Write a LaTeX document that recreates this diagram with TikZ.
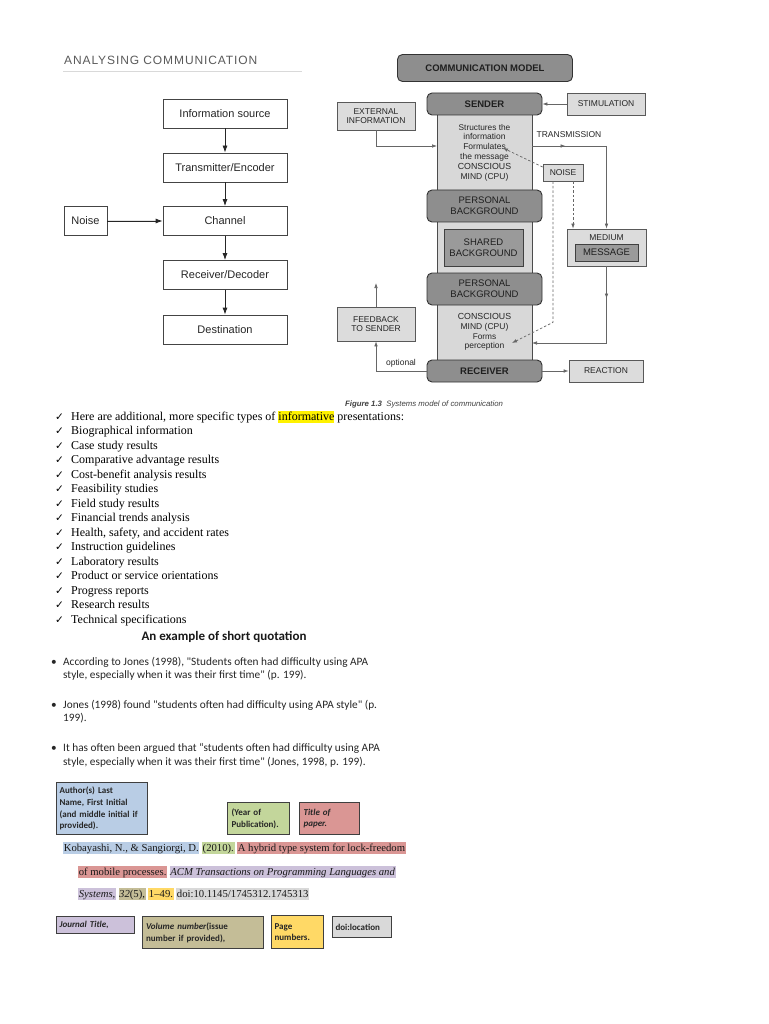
\documentclass[tikz,border=0pt]{standalone}
\usepackage{fontspec}
\setmainfont{Liberation Serif}
\newfontfamily\arialf{Liberation Sans}
\newfontfamily\spacedf[LetterSpace=7.5]{Liberation Sans}
\newfontfamily\calibf{Carlito}
\newfontfamily\dejavuf{DejaVu Sans}
\usetikzlibrary{arrows.meta,decorations.markings}
\definecolor{lcol}{HTML}{444444}
\definecolor{darkgrayA}{HTML}{8E8E8E}
\definecolor{colgray}{HTML}{D8D8D8}
\definecolor{boxgray}{HTML}{DCDCDC}
\definecolor{midgray}{HTML}{9A9A9A}
\definecolor{titlegray}{HTML}{5A5A5A}
\definecolor{hlyellow}{HTML}{FFF200}
\definecolor{cblue}{HTML}{B9CDE5}
\definecolor{cgreen}{HTML}{C3D69B}
\definecolor{cpink}{HTML}{DA9694}
\definecolor{cpurple}{HTML}{CCC1DA}
\definecolor{ctan}{HTML}{C4BD97}
\definecolor{cyellow}{HTML}{FFD966}
\definecolor{cgray}{HTML}{D9D9D9}
\definecolor{cborder}{HTML}{3F3F3F}
\newcommand{\hlc}[2]{{\setlength{\fboxsep}{0.6pt}\colorbox{#1}{\rule[-2.8pt]{0pt}{11.2pt}#2}}}
\begin{document}
\begin{tikzpicture}[x=1pt,y=-1pt,
 lbox/.style={draw=lcol, line width=0.8pt, minimum width=124pt, minimum height=29pt, font=\arialf\fontsize{11}{13}\selectfont, inner sep=1pt, text=black!85},
 larr/.style={-{Latex[length=7pt,width=5pt]}, line width=0.8pt, draw=black!85, fill=black!85},
 rbox/.style={draw=black!65, line width=0.7pt, fill=boxgray, font=\arialf\fontsize{8.5}{9.6}\selectfont, align=center, inner sep=1pt, text=black!85},
 dbox/.style={draw=black!80, line width=0.9pt, fill=darkgrayA, rounded corners=5pt, font=\arialf\fontsize{9.5}{10.6}\selectfont, align=center, inner sep=1pt, minimum width=115pt, text=black!88},
 rline/.style={draw=black!60, line width=0.7pt},
 rarr/.style={rline, -{Latex[length=5pt,width=3.6pt]}},
 midarr/.style={postaction={decorate}, decoration={markings, mark=at position #1 with {\arrow{Latex[length=5pt,width=3.6pt]}}}},
 midarr/.default=0.5,
 rtext/.style={font=\arialf\fontsize{8.5}{9.8}\selectfont, align=center, text=black!85, inner sep=0pt},
 chk/.style={anchor=base west, font=\dejavuf\fontsize{10.5}{12}\selectfont, inner sep=0pt},
 item/.style={anchor=base west, font=\fontsize{12}{14}\selectfont, inner sep=0pt},
 qtext/.style={anchor=base west, font=\calibf\fontsize{11.3}{13}\selectfont, inner sep=0pt, text=black!85},
 cbox/.style={draw=cborder, line width=1.1pt, anchor=north west, align=left, inner sep=0pt, font=\calibf\bfseries\fontsize{9}{11.8}\selectfont, text=black!85},
 refline/.style={anchor=base west, inner sep=0pt, font=\fontsize{10.7}{13}\selectfont, text=black!90}
]
\useasboundingbox (0,0) rectangle (768,1024);
\fill[white] (0,0) rectangle (768,1024);

% ---------- left diagram ----------
\node[anchor=base west, inner sep=0pt, font=\spacedf\fontsize{12}{14}\selectfont, text=titlegray] (title) at (64,65) {ANALYSING COMMUNICATION};
\draw[black!15, line width=0.8pt] (63,71) -- (302,71);
\node[lbox] (src) at (225,113.5) {Information source};
\node[lbox] (enc) at (225,167.5) {Transmitter/Encoder};
\node[lbox] (chan) at (225,221) {Channel};
\node[lbox] (dec) at (225,275) {Receiver/Decoder};
\node[lbox] (dst) at (225,329.5) {Destination};
\node[lbox, minimum width=43pt] (noiseL) at (85.5,221) {Noise};
\draw[larr] (src) -- (enc);
\draw[larr] (enc) -- (chan);
\draw[larr] (chan) -- (dec);
\draw[larr] (dec) -- (dst);
\draw[larr] (noiseL) -- (chan);

% ---------- right diagram ----------
\node[dbox, minimum width=175pt, minimum height=27pt] (cm) at (485,68) {\bfseries COMMUNICATION MODEL};
\node[draw=black!70, line width=0.7pt, fill=colgray, minimum width=95pt, minimum height=250pt, inner sep=0pt] (col) at (484.5,237.5) {};
\node[dbox, minimum height=22pt] (sender) at (484.5,104) {\bfseries SENDER};
\node[dbox, minimum height=32pt] (pb1) at (484.5,206) {PERSONAL\\BACKGROUND};
\node[draw=black!75, line width=0.8pt, fill=midgray, minimum width=79pt, minimum height=37pt, align=center, inner sep=1pt, font=\arialf\fontsize{9.5}{10.6}\selectfont, text=black!88] (shared) at (483.5,247.5) {SHARED\\BACKGROUND};
\node[dbox, minimum height=32pt] (pb2) at (484.5,289) {PERSONAL\\BACKGROUND};
\node[dbox, minimum height=22pt] (receiver) at (484.5,371) {\bfseries RECEIVER};
\node[rtext] (mind1) at (484.5,152.5) {\fontsize{8.3}{9.8}\selectfont Structures the\\information\\Formulates\\the message\\\fontsize{8.8}{9.8}\selectfont CONSCIOUS\\MIND (CPU)};
\node[rtext] (mind2) at (484.5,332) {\fontsize{8.8}{10}\selectfont CONSCIOUS\\MIND (CPU)\\\fontsize{8.3}{10}\selectfont Forms\\perception};

\node[rbox, minimum width=78pt, minimum height=28pt] (ext) at (376,116) {EXTERNAL\\INFORMATION};
\node[rbox, minimum width=78pt, minimum height=22pt] (stim) at (606,104) {STIMULATION};
\node[rbox, minimum width=40pt, minimum height=17pt] (noise) at (563,172.5) {NOISE};
\node[rbox, minimum width=79pt, minimum height=37pt] (medium) at (606.5,247.5) {};
\node[rtext] (medlbl) at (606.5,237.5) {MEDIUM};
\node[draw=black!75, line width=0.8pt, fill=midgray, minimum width=63pt, minimum height=17pt, inner sep=0pt, font=\arialf\fontsize{9.5}{10.6}\selectfont, text=black!88] (message) at (606.5,252.5) {MESSAGE};
\node[rbox, minimum width=78pt, minimum height=34pt] (feedback) at (376,324) {FEEDBACK\\TO SENDER};
\node[rbox, minimum width=74pt, minimum height=22pt] (reaction) at (606,371) {REACTION};
\node[rtext] (tx) at (569,135) {TRANSMISSION};
\node[rtext] (opt) at (401,363.5) {optional};

\coordinate (extin) at (437,146);
\coordinate (txout) at (532,146);
\coordinate (txcorner) at (606.5,146);
\coordinate (noisetip) at (503,148);
\coordinate (perctip) at (512,343);
\coordinate (medcorner) at (606.5,343);
\coordinate (recvin) at (532,343);
\coordinate (fbtop) at (376,283);

\draw[rarr] (stim.west) -- (sender.east);
\draw[rarr] (ext.south) |- (extin);
\draw[rline, midarr=0.45] (txout) -- (txcorner);
\draw[rarr] (txcorner) -- (medium.north);
\draw[rarr, dashed, dash pattern=on 2.5pt off 2pt] (noise.165) -- (noisetip);
\draw[rarr, dashed, dash pattern=on 2.5pt off 2pt] ([xshift=10pt]noise.south) -- ([xshift=10pt]noise.south |- medium.north);
\draw[rarr, dashed, dash pattern=on 2.5pt off 2pt] ([xshift=-10pt]noise.south) -- ++(0,141) -- (perctip);
\draw[rline, midarr=0.42] (medium.south) -- (medcorner);
\draw[rarr] (medcorner) -- (recvin);
\draw[rarr] (receiver.east) -- (reaction.west);
\draw[rarr] (receiver.west) -| (feedback.south);
\draw[rarr] (feedback.north) -- (fbtop);

\node[anchor=base west, inner sep=0pt, font=\arialf\fontsize{7.8}{9}\selectfont, text=black!75] (caption) at (345,406) {\bfseries\itshape Figure 1.3\ \ \mdseries Systems model of communication};

% ---------- checklist ----------
\foreach \t [count=\i from 0] in {{Here are additional, more specific types of {\setlength{\fboxsep}{0pt}\colorbox{hlyellow}{\rule[-3pt]{0pt}{12pt}informative}} presentations:},
 Biographical information, Case study results, Comparative advantage results,
 Cost-benefit analysis results, Feasibility studies, Field study results,
 Financial trends analysis, {Health, safety, and accident rates}, Instruction guidelines,
 Laboratory results, Product or service orientations, Progress reports,
 Research results, Technical specifications} {
  \node[chk] (chk\i) at (55,420+14.5*\i) {✓};
  \node[item] (item\i) at (71,420+14.5*\i) {\t};
}

% ---------- quotation ----------
\node[font=\calibf\bfseries\fontsize{13}{15}\selectfont, inner sep=0pt, text=black!90] (qtitle) at (224,637) {An example of short quotation};
\node[qtext] (b1) at (51,665) {•};
\node[qtext] (q1a) at (63,665) {According to Jones (1998), "Students often had difficulty using APA};
\node[qtext] (q1b) at (63,678) {style, especially when it was their first time" (p. 199).};
\node[qtext] (b2) at (51,708) {•};
\node[qtext] (q2a) at (63,708) {Jones (1998) found "students often had difficulty using APA style" (p.};
\node[qtext] (q2b) at (63,721.5) {199).};
\node[qtext] (b3) at (51,751.5) {•};
\node[qtext] (q3a) at (63,751.5) {It has often been argued that “students often had difficulty using APA};
\node[qtext] (q3b) at (63,765) {style, especially when it was their first time" (Jones, 1998, p. 199).};

% ---------- citation ----------
\node[cbox, fill=cblue, minimum width=91pt, minimum height=52pt, text width=85pt, inner xsep=3pt] (author) at (56,782) {Author(s) Last\\Name, First Initial\\(and middle initial if\\provided).};
\node[cbox, fill=cgreen, minimum width=61pt, minimum height=32pt, text width=54pt, inner xsep=4pt] (year) at (227,802) {(Year of\\Publication).};
\node[cbox, fill=cpink, minimum width=59pt, minimum height=32pt, text width=52pt, inner xsep=4pt, font=\calibf\bfseries\itshape\fontsize{9}{11.8}\selectfont] (ptitle) at (299,802) {Title of\\paper.};

\node[refline] (ref1) at (63,851) {\hlc{cblue}{Kobayashi, N., \& Sangiorgi, D.} \hlc{cgreen}{(2010).} \hlc{cpink}{A hybrid type system for lock-freedom}};
\node[refline] (ref2) at (78,875) {\hlc{cpink}{of mobile processes.} \hlc{cpurple}{\itshape ACM Transactions on Programming Languages and}};
\node[refline] (ref3) at (78,897) {\hlc{cpurple}{\itshape Systems,} \hlc{ctan}{\textit{32}(5),} \hlc{cyellow}{1–49.} \hlc{cgray}{doi:10.1145/1745312.1745313}};

\node[cbox, fill=cpurple, minimum width=78pt, minimum height=17pt, text width=72pt, inner xsep=3pt, font=\calibf\bfseries\itshape\fontsize{9}{11.8}\selectfont] (journal) at (56,916) {Journal Title,};
\node[cbox, fill=ctan, minimum width=121pt, minimum height=32pt, text width=114pt, inner xsep=3.5pt] (volume) at (142,916) {\itshape Volume number\upshape(issue\\number if provided),};
\node[cbox, fill=cyellow, minimum width=52pt, minimum height=33pt, text width=46pt, inner xsep=3pt] (pages) at (271,915) {Page\\numbers.};
\node[cbox, fill=cgray, minimum width=59pt, minimum height=21pt, text width=53pt, inner xsep=3pt] (doiloc) at (332,916) {doi:location};
\end{tikzpicture}
\end{document}
